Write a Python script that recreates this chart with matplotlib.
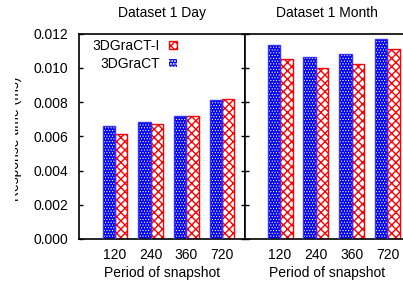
import numpy as np
import matplotlib
matplotlib.use("Agg")
import matplotlib.pyplot as plt
from matplotlib.patches import Patch, Rectangle

plt.rcParams['font.family'] = ['Liberation Sans', 'DejaVu Sans']
plt.rcParams['font.size'] = 10
plt.rcParams['hatch.linewidth'] = 1.0

# data
periods = ['120', '240', '360', '720']
day_3dgract = [0.00658, 0.00682, 0.00717, 0.00814]
day_3dgract_i = [0.00612, 0.00674, 0.00716, 0.00820]
month_3dgract = [0.01134, 0.01060, 0.01083, 0.01169]
month_3dgract_i = [0.01054, 0.01000, 0.01023, 0.01111]

W, H = 403, 288
fig = plt.figure(figsize=(W / 100, H / 100), dpi=100)

def px(x0, y_top, x1, y_bot):
    return [x0 / W, 1 - y_bot / H, (x1 - x0) / W, (y_bot - y_top) / H]

ax1 = fig.add_axes(px(79, 33.5, 245, 239))
ax2 = fig.add_axes(px(245, 33.5, 423.3, 239))

bw = 0.35

def draw(ax, blue_vals, red_vals):
    x = np.arange(len(periods))
    # blue: dotted fill
    with plt.rc_context({'hatch.linewidth': 0.5}):
        ax.bar(x - bw / 2, blue_vals, bw, facecolor='#0000f0', edgecolor='white',
               hatch='......', linewidth=0, zorder=2)
    ax.bar(x - bw / 2, blue_vals, bw, fill=False, edgecolor='#3333ff',
           linewidth=1.0, zorder=3)
    # red: cross hatch
    ax.bar(x + bw / 2, red_vals, bw, facecolor='white', edgecolor='#ff0000',
           hatch='xxxx', linewidth=1.0, zorder=2)
    ax.set_ylim(0, 0.012)
    ax.set_xticks(x)
    ax.set_xticklabels(periods)
    ax.tick_params(axis='x', which='both', top=True, bottom=False, direction='in',
                   length=3, width=1, pad=6.5)
    ax.tick_params(axis='x', bottom=True, length=0)
    ax.tick_params(axis='y', direction='in', left=True, right=True, length=3, width=1)
    for s in ax.spines.values():
        s.set_linewidth(1.2)

draw(ax1, day_3dgract, day_3dgract_i)
ax1.set_xlim(-1.01, 3.645)
ax1.set_yticks(np.arange(0, 0.0121, 0.002))
ax1.set_yticklabels(['%.3f' % v for v in np.arange(0, 0.0121, 0.002)])
ax1.tick_params(axis='y', pad=8)

draw(ax2, month_3dgract, month_3dgract_i)
ax2.set_xlim(-0.98, 4.0)
ax2.set_yticks(np.arange(0, 0.0121, 0.002))
ax2.set_yticklabels([])
ax2.tick_params(axis='y', right=False)

with plt.rc_context({'hatch.linewidth': 0.5}):
    blue_handle = Patch(facecolor='#0000f0', edgecolor='white', hatch='......', linewidth=0)
red_handle = Patch(facecolor='white', edgecolor='#ff0000', hatch='xxxx', linewidth=1.0)
ax1.legend([red_handle, blue_handle], ['3DGraCT-I', '3DGraCT'], loc='upper left',
           frameon=False, markerfirst=False, handlelength=0.6, handleheight=0.5,
           handletextpad=0.6, labelspacing=0.25, borderaxespad=0,
           bbox_to_anchor=(0.05, 1.0))

fig.text(162 / W, 1 - 13 / H, 'Dataset 1 Day', ha='center', va='center')
fig.text(327 / W, 1 - 13 / H, 'Dataset 1 Month', ha='center', va='center')
fig.text(162 / W, 1 - 273 / H, 'Period of snapshot', ha='center', va='center')
fig.text(327 / W, 1 - 273 / H, 'Period of snapshot', ha='center', va='center')

fig.text(22.5 / W, 1 - 138.5 / H, 'Response time (ms)', rotation=90,
         ha='right', va='center', zorder=3)
# the label is cut off on its left side in the reference
fig.patches.append(Rectangle((0, 0), 15 / W, 1, transform=fig.transFigure,
                             facecolor='white', edgecolor='none', zorder=5))

fig.savefig('out.png', dpi=100)
